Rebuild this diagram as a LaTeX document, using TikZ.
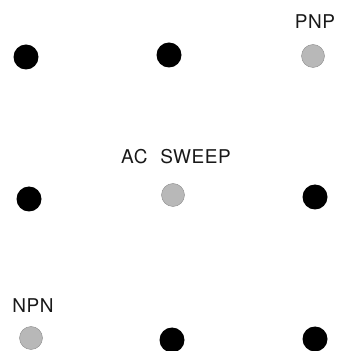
\documentclass[tikz,border=0pt]{standalone}
\usepackage{fontspec}
\setmainfont{TeX Gyre Heros}
\newfontfamily\lblfont[LetterSpace=3.0]{TeX Gyre Heros}
\begin{document}
\begin{tikzpicture}[x=1pt,y=1pt,
  blackdot/.style={circle,fill=black,draw=none,minimum size=25pt,inner sep=0pt},
  graydot/.style={circle,fill=black!28,draw=black!45,line width=0.4pt,minimum size=23pt,inner sep=0pt},
  lbl/.style={font=\lblfont\fontsize{19}{21}\selectfont,inner sep=0pt,text=black!90}]
\useasboundingbox (0,0) rectangle (337,351);
\node[blackdot] (b1) at (26,351-57) {};
\node[blackdot] (b2) at (169,351-55) {};
\node[graydot]  (g1) at (313,351-56) {};
\node[blackdot] (b3) at (29,351-199) {};
\node[graydot]  (g2) at (173,351-195) {};
\node[blackdot] (b4) at (315,351-197) {};
\node[graydot]  (g3) at (31,351-338) {};
\node[blackdot] (b5) at (172,351-340) {};
\node[blackdot] (b6) at (315,351-339) {};
\node[lbl] (pnp) at (315,351-22) {PNP};
\node[lbl] (ac) at (176,351-157) {AC\hspace{13pt}SWEEP};
\node[lbl] (npn) at (33,351-306) {NPN};
\end{tikzpicture}
\end{document}
